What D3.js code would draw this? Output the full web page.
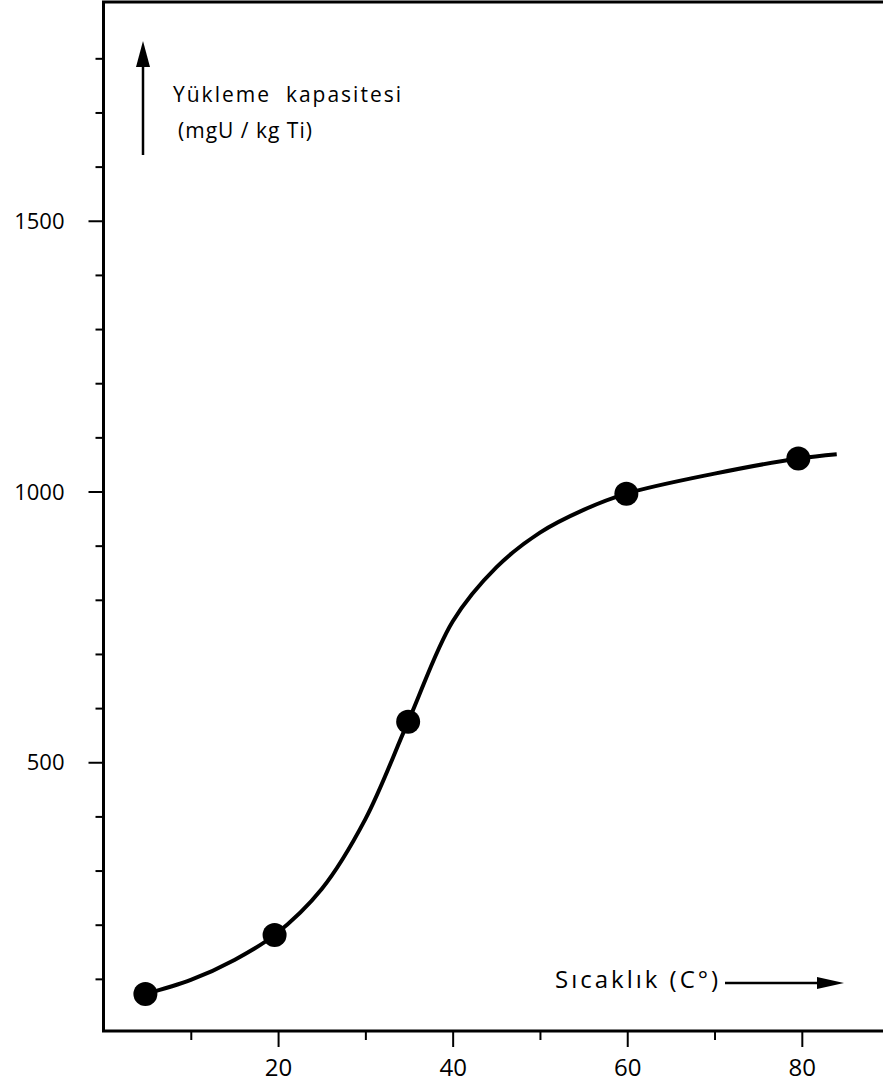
<!DOCTYPE html>
<html><head><meta charset="utf-8">
<script src="https://cdn.jsdelivr.net/npm/d3@7"></script>
<style>body{margin:0;background:#fff}svg{display:block}text{font-family:"Open Sans",sans-serif;fill:#000}</style>
</head><body>
<script>
// Measured points: temperature (°C) vs loading capacity (mg U / kg Ti)
const temps = [4.8, 19.6, 34.9, 59.9, 79.6];
const capacities = [72, 181, 575, 996, 1061];
// Hand-drawn fitted curve
const curveTemps = [4.8, 10, 15, 19.6, 25, 30, 34.9, 40, 45, 50, 55, 59.9, 70, 79.6, 84];
const curveValues = [72, 98, 135, 181, 266, 395, 575, 760, 860, 924, 966, 996, 1033, 1061, 1069];
const xTickValues = [10, 20, 30, 40, 50, 60, 70, 80];
const xTickLabels = ["", "20", "", "40", "", "60", "", "80"];
const yTickValues = d3.range(100, 1900, 100);
const yTickLabels = yTickValues.map(v => v % 500 === 0 ? String(v) : "");
const yTitle = ["Yükleme  kapasitesi", "(mgU / kg Ti)"];
const xTitle = "Sıcaklık (C°)";

const W = 883, H = 1086;
const svg = d3.select("body").append("svg").attr("width", W).attr("height", H);
const x = d3.scaleLinear().domain([0, 89.3]).range([103.5, 883]);
const y = d3.scaleLinear().domain([0, 1904]).range([1033, 2]);

const axisCol = "#000";
// left axis
const yAx = svg.append("g").attr("transform", `translate(${x(0)},0)`)
  .call(d3.axisLeft(y).tickValues(yTickValues).tickSize(0).tickFormat((d,i)=>yTickLabels[i]));
yAx.select(".domain").remove();
yAx.selectAll(".tick line").attr("x2", d => d % 500 === 0 ? -15 : -8).attr("stroke", axisCol).attr("stroke-width", 2);
yAx.selectAll(".tick text").attr("x", -39).attr("font-size", 22).attr("dy", "0.35em");
svg.append("line").attr("x1", x(0)).attr("x2", x(0)).attr("y1", 2).attr("y2", 1031).attr("stroke", axisCol).attr("stroke-width", 3);
// bottom axis
const xAx = svg.append("g").attr("transform", `translate(0,1031)`)
  .call(d3.axisBottom(x).tickValues(xTickValues).tickSize(0).tickFormat((d,i)=>xTickLabels[i]));
xAx.select(".domain").remove();
xAx.selectAll(".tick line").attr("y2", d => d % 20 === 0 ? 16 : 9).attr("stroke", axisCol).attr("stroke-width", 2);
xAx.selectAll(".tick text").attr("y", 28).attr("font-size", 24).attr("dy", "0.71em");
svg.append("line").attr("x1", x(0) - 1.5).attr("x2", W).attr("y1", 1031).attr("y2", 1031).attr("stroke", axisCol).attr("stroke-width", 3);
// top border
svg.append("line").attr("x1", x(0) - 1.5).attr("x2", W).attr("y1", 2).attr("y2", 2).attr("stroke", axisCol).attr("stroke-width", 3);

// curve
const line = d3.line().x(d => x(d[0])).y(d => y(d[1])).curve(d3.curveCatmullRom.alpha(0.5));
svg.append("path").datum(curveTemps.map((t,i)=>[t, curveValues[i]]))
  .attr("d", line).attr("fill", "none").attr("stroke", "#000").attr("stroke-width", 4);
// points
svg.selectAll("circle.pt").data(temps.map((t,i)=>[t, capacities[i]])).join("circle")
  .attr("class","pt").attr("cx", d => x(d[0])).attr("cy", d => y(d[1])).attr("r", 12).attr("fill", "#000");

// y title with arrow
svg.append("line").attr("x1", 143).attr("x2", 143).attr("y1", 155).attr("y2", 62).attr("stroke", "#000").attr("stroke-width", 2.5);
svg.append("path").attr("d", "M143,41 L136,67 L150,67 Z").attr("fill", "#000");
svg.append("text").attr("x", 173).attr("y", 102).attr("font-size", 21).attr("letter-spacing", 2).style("white-space","pre").text(yTitle[0]);
svg.append("text").attr("x", 178).attr("y", 138).attr("font-size", 21).attr("letter-spacing", 1).style("white-space","pre").text(yTitle[1]);

// x title with arrow
svg.append("text").attr("x", 555).attr("y", 988).attr("font-size", 24).attr("letter-spacing", 3).text(xTitle);
svg.append("line").attr("x1", 725).attr("x2", 822).attr("y1", 983).attr("y2", 983).attr("stroke", "#000").attr("stroke-width", 2.5);
svg.append("path").attr("d", "M844,983 L817,977 L817,989 Z").attr("fill", "#000");
</script>
</body></html>
